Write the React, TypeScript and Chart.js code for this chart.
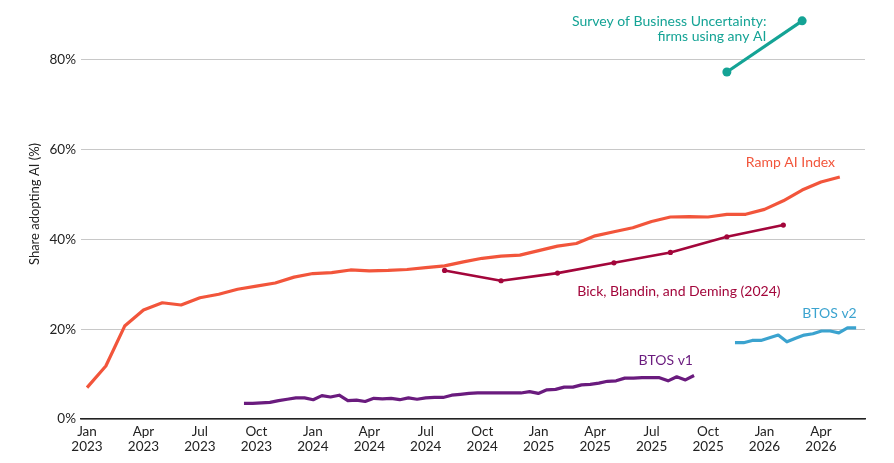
import React, { useEffect, useRef } from "react";
import { Chart, registerables } from "chart.js";

Chart.register(...registerables);

// x values are months since Jan 2023 (0 = Jan 2023)
const tickMonths = [0, 3, 6, 9, 12, 15, 18, 21, 24, 27, 30, 33, 36, 39];
const tickLabels: string[][] = [
  ["Jan", "2023"], ["Apr", "2023"], ["Jul", "2023"], ["Oct", "2023"],
  ["Jan", "2024"], ["Apr", "2024"], ["Jul", "2024"], ["Oct", "2024"],
  ["Jan", "2025"], ["Apr", "2025"], ["Jul", "2025"], ["Oct", "2025"],
  ["Jan", "2026"], ["Apr", "2026"],
];
const yTicks = [0, 20, 40, 60, 80];

// Ramp AI Index (monthly, Jan 2023 .. May 2026)
const rampValues = [
  7.0, 11.8, 20.7, 24.3, 25.9, 25.4, 27.0, 27.8, 28.9, 29.6, 30.3, 31.6,
  32.4, 32.6, 33.2, 33.0, 33.1, 33.3, 33.7, 34.1, 35.0, 35.8, 36.3, 36.5,
  37.5, 38.5, 39.1, 40.8, 41.7, 42.6, 44.0, 45.0, 45.1, 45.0, 45.6, 45.6,
  46.7, 48.6, 51.0, 52.8, 53.9,
];

// Bick, Blandin, and Deming (2024) (quarterly)
const bbdMonths = [19, 22, 25, 28, 31, 34, 37];
const bbdValues = [33.1, 30.8, 32.5, 34.8, 37.1, 40.6, 43.2];

// BTOS v1 (biweekly, from mid Sep 2023)
const btos1Start = 8.34;
const btos1Values = [
  3.5, 3.5, 3.6, 3.7, 4.1, 4.4, 4.7, 4.7, 4.3, 5.2, 4.9, 5.3, 4.1, 4.2,
  3.9, 4.6, 4.5, 4.6, 4.3, 4.7, 4.4, 4.7, 4.8, 4.8, 5.3, 5.5, 5.7, 5.8,
  5.8, 5.8, 5.8, 5.8, 5.8, 6.1, 5.7, 6.5, 6.6, 7.1, 7.1, 7.6, 7.7, 8.0,
  8.4, 8.5, 9.1, 9.1, 9.2, 9.2, 9.2, 8.5, 9.4, 8.7, 9.7,
];

// BTOS v2 (biweekly, from Nov 2025)
const btos2Start = 34.43;
const btos2Values = [
  17.0, 17.0, 17.5, 17.5, 18.1, 18.7, 17.2, 18.0, 18.7, 19.0, 19.6, 19.6,
  19.2, 20.3, 20.3,
];

// Survey of Business Uncertainty: firms using any AI
const sbuMonths = [34, 38];
const sbuValues = [77.3, 88.7];

const BIWEEK = 14 / 30.44;

const COLORS = {
  ramp: "#F2553B",
  bbd: "#A3063B",
  btos1: "#6A1B7E",
  btos2: "#3BA3CF",
  sbu: "#14A395",
};

const FONT = "Lato, 'Open Sans', sans-serif";

const labelsPlugin = {
  id: "seriesLabels",
  afterDatasetsDraw(chart: any) {
    const ctx = chart.ctx;
    const xs = chart.scales.x;
    const ys = chart.scales.y;
    ctx.save();
    ctx.font = `14px ${FONT}`;
    ctx.textBaseline = "middle";
    const put = (text: string, color: string, px: number, py: number, align: CanvasTextAlign) => {
      ctx.fillStyle = color;
      ctx.textAlign = align;
      ctx.fillText(text, px, py);
    };
    put("Survey of Business Uncertainty:", COLORS.sbu, xs.getPixelForValue(36.1), ys.getPixelForValue(88.5), "right");
    put("firms using any AI", COLORS.sbu, xs.getPixelForValue(36.1), ys.getPixelForValue(85.3), "right");
    put("Ramp AI Index", COLORS.ramp, xs.getPixelForValue(39.75), ys.getPixelForValue(57.2), "right");
    put("Bick, Blandin, and Deming (2024)", COLORS.bbd, xs.getPixelForValue(36.85), ys.getPixelForValue(28.5), "right");
    put("BTOS v2", COLORS.btos2, xs.getPixelForValue(40.9), ys.getPixelForValue(23.5), "right");
    put("BTOS v1", COLORS.btos1, xs.getPixelForValue(32.2), ys.getPixelForValue(13.1), "right");

    // y-axis title
    ctx.save();
    ctx.translate(35, 204);
    ctx.rotate(-Math.PI / 2);
    ctx.font = `13px ${FONT}`;
    ctx.fillStyle = "#222222";
    ctx.textAlign = "center";
    ctx.fillText("Share adopting AI (%)", 0, 0);
    ctx.restore();
    ctx.restore();
  },
};

export default function App() {
  const ref = useRef<HTMLCanvasElement | null>(null);

  useEffect(() => {
    if (!ref.current) return;
    const rampData = rampValues.map((v, i) => ({ x: i, y: v }));
    const bbdData = bbdMonths.map((m, i) => ({ x: m, y: bbdValues[i] }));
    const b1Data = btos1Values.map((v, i) => ({ x: btos1Start + i * BIWEEK, y: v }));
    const b2Data = btos2Values.map((v, i) => ({ x: btos2Start + i * BIWEEK, y: v }));
    const sbuData = sbuMonths.map((m, i) => ({ x: m, y: sbuValues[i] }));

    const line = (data: any[], color: string, width: number, radius: number) => ({
      data,
      borderColor: color,
      backgroundColor: color,
      borderWidth: width,
      pointRadius: radius,
      pointHoverRadius: radius,
      pointBorderWidth: 0,
      tension: 0,
      fill: false,
      borderJoinStyle: "round" as const,
    });

    const chart = new Chart(ref.current, {
      type: "line",
      data: {
        datasets: [
          line(rampData, COLORS.ramp, 3.2, 0),
          line(bbdData, COLORS.bbd, 2.6, 2.6),
          line(b1Data, COLORS.btos1, 3.2, 0),
          line(b2Data, COLORS.btos2, 3.2, 0),
          line(sbuData, COLORS.sbu, 3.2, 4.5),
        ],
      },
      plugins: [labelsPlugin],
      options: {
        animation: false,
        responsive: false,
        maintainAspectRatio: false,
        layout: { padding: { left: 0, top: 6, right: 29, bottom: 0 } },
        plugins: {
          legend: { display: false },
          tooltip: { enabled: false },
        },
        scales: {
          x: {
            type: "linear",
            min: -0.32,
            max: 41.34,
            grid: { display: false, drawTicks: false },
            border: { display: true, color: "#222222", width: 1.5 },
            afterBuildTicks: (scale: any) => {
              scale.ticks = tickMonths.map((m) => ({ value: m }));
            },
            afterFit: (scale: any) => {
              scale.height = 44;
              scale.paddingLeft = 0;
              scale.paddingRight = 0;
            },
            ticks: {
              autoSkip: false,
              maxRotation: 0,
              padding: 6,
              color: "#222222",
              font: { family: FONT, size: 13.5, lineHeight: 1.05 },
              callback: (value: any) => {
                const i = tickMonths.indexOf(Number(value));
                return i >= 0 ? tickLabels[i] : "";
              },
            },
          },
          y: {
            type: "linear",
            min: 0,
            max: 92,
            grid: { color: "#C8C8C8", lineWidth: 1, drawTicks: false },
            border: { display: false },
            afterBuildTicks: (scale: any) => {
              scale.ticks = yTicks.map((v) => ({ value: v }));
            },
            afterFit: (scale: any) => {
              scale.width = 81;
              scale.paddingTop = 0;
              scale.paddingBottom = 0;
            },
            ticks: {
              padding: 5,
              color: "#222222",
              font: { family: FONT, size: 13.5 },
              callback: (value: any) => `${value}%`,
            },
          },
        },
      },
    });
    return () => chart.destroy();
  }, []);

  return (
    <div style={{ position: "fixed", left: 0, top: 0, width: 894, height: 463, background: "#fff" }}>
      <canvas ref={ref} width={894} height={463} style={{ width: 894, height: 463 }} />
    </div>
  );
}
